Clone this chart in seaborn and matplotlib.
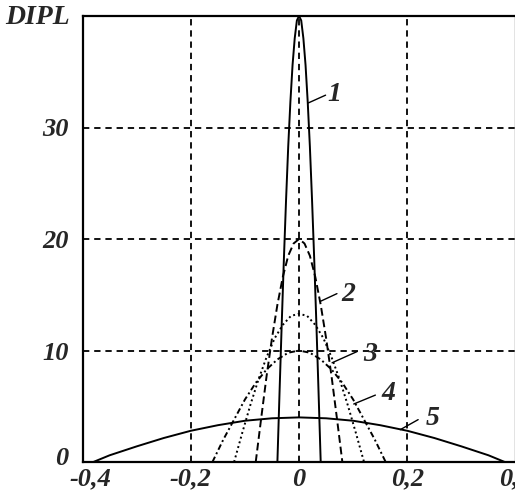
import numpy as np
import pandas as pd
import matplotlib
matplotlib.use("Agg")
import matplotlib.pyplot as plt
import matplotlib.transforms as mtransforms
import seaborn as sns

# values (symmetric profiles, right half listed)
x1 = [0.0, 0.004, 0.008, 0.012, 0.016, 0.020, 0.024, 0.028, 0.032, 0.036, 0.040]
y1 = [40.0, 39.6, 38.0, 35.6, 32.3, 28.3, 23.5, 18.2, 12.4, 6.3, 0.0]

x2 = [0.0, 0.01, 0.02, 0.03, 0.04, 0.05, 0.06, 0.07, 0.08]
y2 = [20.0, 19.6, 18.5, 16.6, 14.1, 11.1, 7.7, 3.9, 0.0]

x3 = [0.0, 0.015, 0.03, 0.045, 0.06, 0.075, 0.09, 0.105, 0.12]
y3 = [13.3, 13.1, 12.3, 11.1, 9.4, 7.4, 5.1, 2.6, 0.0]

x4 = [0.0, 0.02, 0.04, 0.06, 0.08, 0.10, 0.12, 0.14, 0.16]
y4 = [10.0, 9.8, 9.2, 8.3, 7.1, 5.6, 3.8, 2.0, 0.0]

x5 = [0.0, 0.05, 0.10, 0.15, 0.20, 0.25, 0.30, 0.35, 0.38]
y5 = [4.0, 3.92, 3.70, 3.30, 2.80, 2.15, 1.40, 0.60, 0.0]

curve_names = ["1", "2", "3", "4", "5"]
xticks = [-0.4, -0.2, 0.0, 0.2, 0.4]
xtick_labels = ["-0,4", "-0,2", "0", "0,2", "0,4"]
yticks = [0, 10, 20, 30]
ytick_labels = ["0", "10", "20", "30"]

# label text position and leader line (curve point -> near label)
label_pos = [(0.066, 33.0), (0.091, 15.0), (0.131, 9.6), (0.165, 6.1), (0.246, 3.9)]
leader_from = [(0.017, 32.2), (0.039, 14.4), (0.061, 8.9), (0.101, 5.2), (0.187, 2.9)]
leader_to = [(0.049, 32.9), (0.070, 15.1), (0.107, 9.9), (0.141, 6.0), (0.220, 3.8)]

sns.set_style("white")
plt.rcParams['font.family'] = ['Liberation Serif', 'DejaVu Serif']

fig = plt.figure(figsize=(5.15, 4.97), dpi=100)
ax = fig.add_axes([82.5 / 515, 35 / 497, (515.6 - 82.5) / 515, (462 - 16) / 497])

styles = ["-", (0, (4, 2)), (0, (1, 1.5)), (0, (3, 1.5, 1, 1.5)), "-"]
xs = [x1, x2, x3, x4, x5]
ys = [y1, y2, y3, y4, y5]
for name, xv, yv, ls in zip(curve_names, xs, ys, styles):
    xv = np.array(xv)
    yv = np.array(yv)
    df = pd.DataFrame({"x": np.concatenate([-xv[::-1], xv[1:]]),
                       "y": np.concatenate([yv[::-1], yv[1:]])})
    sns.lineplot(data=df, x="x", y="y", ax=ax, color="black", linewidth=1.4,
                 linestyle=ls, sort=True, estimator=None)

for name, p, a, b in zip(curve_names, label_pos, leader_from, leader_to):
    ax.plot([a[0], b[0]], [a[1], b[1]], color="black", lw=1.0)
    ax.text(p[0], p[1], name, ha="center", va="center", fontsize=20,
            fontweight="bold", fontstyle="italic")

ax.set_xlim(-0.4, 0.4)
ax.set_ylim(0, 40)
ax.set_xticks(xticks)
ax.set_xticklabels(xtick_labels)
ax.set_yticks(yticks)
ax.set_yticklabels(ytick_labels)
ax.set_xlabel("")
ax.set_ylabel("")
for lab in ax.get_xticklabels() + ax.get_yticklabels():
    lab.set_fontsize(19)
    lab.set_fontweight("bold")
    lab.set_fontstyle("italic")
ax.tick_params(axis="y", length=0, pad=10)
ax.tick_params(axis="x", length=0, pad=4)

# nudge the corner labels apart like in the reference
xl0 = ax.get_xticklabels()[0]
xl0.set_transform(xl0.get_transform() + mtransforms.ScaledTranslation(8 / 100, 0, fig.dpi_scale_trans))
yl0 = ax.get_yticklabels()[0]
yl0.set_transform(yl0.get_transform() + mtransforms.ScaledTranslation(0, 6 / 100, fig.dpi_scale_trans))

ax.grid(True, color="black", linestyle=(0, (3.5, 2.7)), linewidth=1.3)
for s in ax.spines.values():
    s.set_color("black")
    s.set_linewidth(1.6)

fig.text(5 / 515, 1 - 17 / 497, "DIPL", ha="left", va="center", fontsize=20,
         fontweight="bold", fontstyle="italic")

fig.savefig("out.png", dpi=100)
